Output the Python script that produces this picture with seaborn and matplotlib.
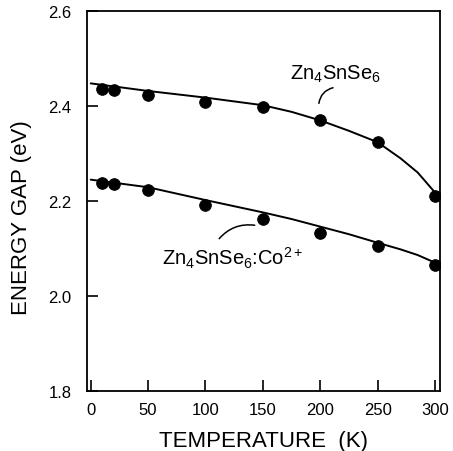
import matplotlib
matplotlib.use("Agg")
import matplotlib.pyplot as plt
import seaborn as sns
import pandas as pd

# measured band gaps
temperature = [10, 20, 50, 100, 150, 200, 250, 300]
gap_pure = [2.436, 2.434, 2.424, 2.409, 2.398, 2.371, 2.325, 2.211]
gap_co = [2.238, 2.236, 2.223, 2.192, 2.162, 2.132, 2.106, 2.066]

# fitted curves
fit_t = [0, 50, 100, 150, 175, 200, 225, 250, 270, 285, 300, 304]
fit_pure = [2.448, 2.432, 2.418, 2.402, 2.388, 2.370, 2.348, 2.324,
            2.290, 2.260, 2.218, 2.206]
fit_co = [2.245, 2.229, 2.202, 2.176, 2.162, 2.146, 2.130, 2.112,
          2.098, 2.086, 2.070, 2.066]

x_ticks = [0, 50, 100, 150, 200, 250, 300]
y_ticks = [1.8, 2.0, 2.2, 2.4, 2.6]

sns.set_style("ticks")
plt.rcParams["font.family"] = ["Liberation Sans", "DejaVu Sans"]
plt.rcParams["mathtext.fontset"] = "custom"
plt.rcParams["mathtext.rm"] = "Liberation Sans"
plt.rcParams["mathtext.it"] = "Liberation Sans:italic"
plt.rcParams["text.color"] = "black"
plt.rcParams["axes.labelcolor"] = "black"

points = pd.DataFrame({
    "T": temperature + temperature,
    "Eg": gap_pure + gap_co,
    "sample": ["pure"] * len(temperature) + ["co"] * len(temperature),
})
curves = pd.DataFrame({
    "T": fit_t + fit_t,
    "Eg": fit_pure + fit_co,
    "sample": ["pure"] * len(fit_t) + ["co"] * len(fit_t),
})

fig = plt.figure(figsize=(4.53, 4.52), dpi=100)
ax = fig.add_axes([0.1914, 0.1334, 0.7799, 0.8394])

sns.lineplot(
    data=curves, x="T", y="Eg", units="sample", estimator=None,
    color="black", linewidth=1.4, ax=ax, legend=False
)
sns.scatterplot(
    data=points, x="T", y="Eg", color="black", s=70,
    edgecolor="black", ax=ax, legend=False, zorder=3
)

ax.set_xlim(-3.5, 304.4)
ax.set_ylim(1.8, 2.6)
ax.set_xticks(x_ticks)
ax.set_yticks(y_ticks)
ax.set_yticklabels([f"{v:.1f}" for v in y_ticks])
ax.tick_params(axis="both", direction="in", length=8, width=1.2,
               labelsize=12, colors="black")
ax.tick_params(axis="y", pad=11)
ax.tick_params(axis="x", pad=8)
for side in ax.spines.values():
    side.set_linewidth(1.3)
    side.set_color("black")

ax.set_xlabel("TEMPERATURE  (K)", fontsize=16, color="black")
ax.set_ylabel("ENERGY GAP (eV)", fontsize=16, color="black")
ax.xaxis.set_label_coords(0.5, -0.104)
ax.yaxis.set_label_coords(-0.155, 0.458)

ax.text(174, 2.457, "Zn$_4$SnSe$_6$", fontsize=14.5, color="black")
ax.annotate("", xy=(198.6, 2.400), xytext=(213.5, 2.440),
            arrowprops=dict(arrowstyle="-", color="black", lw=1.1,
                            connectionstyle="arc3,rad=0.4"))
ax.text(62, 2.067, "Zn$_4$SnSe$_6$:Co$^{2+}$", fontsize=14.5, color="black")
ax.annotate("", xy=(110.4, 2.116), xytext=(145.3, 2.148),
            arrowprops=dict(arrowstyle="-", color="black", lw=1.1,
                            connectionstyle="arc3,rad=0.3"))

fig.savefig("out.png", dpi=100)
